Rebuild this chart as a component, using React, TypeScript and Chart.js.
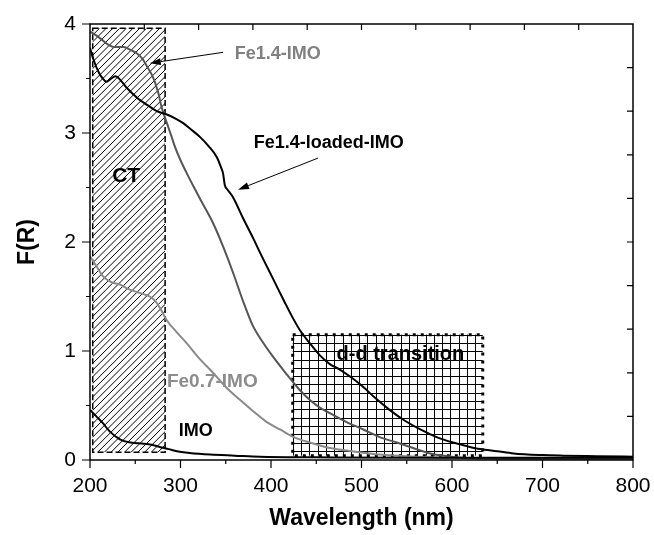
import { useEffect, useRef } from "react";
import { Chart, registerables } from "chart.js";
Chart.register(...registerables);

// ---- data (wavelength in nm, F(R)) ----
const loadedNm = [200, 204, 210, 214, 218, 222, 228, 232, 240, 246, 254, 261, 270, 277, 285, 295, 303, 312, 322, 331, 340, 345, 347, 349, 352, 358, 369, 380, 388, 397, 406, 415, 425, 432, 443, 454, 465, 476, 490, 502, 515, 531, 548, 565, 583, 601, 615, 631, 650, 668, 700, 723, 760, 800];
const loadedF = [3.78, 3.67, 3.55, 3.5, 3.47, 3.49, 3.52, 3.5, 3.42, 3.37, 3.31, 3.27, 3.22, 3.19, 3.17, 3.13, 3.09, 3.03, 2.96, 2.88, 2.78, 2.68, 2.63, 2.52, 2.48, 2.41, 2.22, 2.04, 1.9, 1.75, 1.6, 1.45, 1.29, 1.19, 1.07, 0.96, 0.88, 0.83, 0.75, 0.67, 0.57, 0.46, 0.36, 0.28, 0.21, 0.16, 0.13, 0.1, 0.08, 0.06, 0.045, 0.04, 0.035, 0.03];

const fe14Nm = [200, 206, 214, 220, 226, 232, 237, 245, 252, 258, 263, 268, 272, 276, 279, 285, 290, 294, 300, 307, 315, 322, 335, 347, 358, 369, 380, 391, 402, 416, 432, 443, 454, 465, 483, 502, 520, 539, 557, 576, 595, 612, 650, 700, 800];
const fe14F = [3.93, 3.9, 3.85, 3.81, 3.79, 3.79, 3.79, 3.76, 3.73, 3.68, 3.61, 3.54, 3.46, 3.35, 3.24, 3.09, 2.97, 2.87, 2.75, 2.63, 2.5, 2.39, 2.19, 1.96, 1.72, 1.46, 1.23, 1.08, 0.95, 0.8, 0.64, 0.55, 0.48, 0.43, 0.35, 0.28, 0.21, 0.16, 0.11, 0.06, 0.035, 0.02, 0.012, 0.01, 0.01];

const fe07Nm = [200, 207, 215, 224, 233, 242, 252, 260, 266, 272, 277, 281, 285, 295, 307, 320, 336, 350, 366, 380, 395, 410, 425, 443, 465, 490, 520, 560, 594, 650, 700, 800];
const fe07F = [1.87, 1.78, 1.68, 1.63, 1.61, 1.57, 1.54, 1.52, 1.5, 1.46, 1.4, 1.34, 1.28, 1.18, 1.07, 0.94, 0.8, 0.67, 0.55, 0.45, 0.35, 0.28, 0.21, 0.16, 0.11, 0.08, 0.05, 0.03, 0.02, 0.012, 0.01, 0.01];

const imoNm = [200, 207, 214, 222, 233, 245, 259, 268, 277, 287, 296, 310, 333, 360, 388, 450, 550, 650, 800];
const imoF = [0.46, 0.4, 0.34, 0.26, 0.19, 0.16, 0.15, 0.14, 0.12, 0.1, 0.08, 0.065, 0.05, 0.04, 0.03, 0.025, 0.02, 0.02, 0.02];

const xTicks = [200, 300, 400, 500, 600, 700, 800];
const yTicks = [0, 1, 2, 3, 4];

// annotation regions (data units)
const ctBox = { x0: 203, x1: 283, y0: 0.07, y1: 3.96 };
const ddBox = { x0: 424, x1: 634, y0: 0.04, y1: 1.15 };

const FONT = '"Liberation Sans", Arial, sans-serif';

function pts(xs: number[], ys: number[]) {
  return xs.map((x, i) => ({ x, y: ys[i] }));
}

function arrow(ctx: CanvasRenderingContext2D, x0: number, y0: number, x1: number, y1: number) {
  ctx.save();
  ctx.strokeStyle = "#000";
  ctx.fillStyle = "#000";
  ctx.lineWidth = 1;
  const a = Math.atan2(y1 - y0, x1 - x0);
  const L = 11, W = 3.5;
  const bx = x1 - L * Math.cos(a), by = y1 - L * Math.sin(a);
  ctx.beginPath();
  ctx.moveTo(x0, y0);
  ctx.lineTo(bx, by);
  ctx.stroke();
  ctx.beginPath();
  ctx.moveTo(x1, y1);
  ctx.lineTo(bx - W * Math.sin(a), by + W * Math.cos(a));
  ctx.lineTo(bx + W * Math.sin(a), by - W * Math.cos(a));
  ctx.closePath();
  ctx.fill();
  ctx.restore();
}

const boxesPlugin = {
  id: "boxes",
  beforeDatasetsDraw(chart: any) {
    const { ctx, scales } = chart;
    const xs = scales.x, ys = scales.y;
    // CT hatched box
    {
      const l = xs.getPixelForValue(ctBox.x0), r = xs.getPixelForValue(ctBox.x1);
      const t = ys.getPixelForValue(ctBox.y1), b = ys.getPixelForValue(ctBox.y0);
      ctx.save();
      ctx.beginPath();
      ctx.rect(l, t, r - l, b - t);
      ctx.clip();
      ctx.strokeStyle = "#000";
      ctx.lineWidth = 1;
      const step = 6.7;
      const h = b - t;
      ctx.beginPath();
      for (let k = l - h; k < r + step; k += step) {
        ctx.moveTo(k, b);
        ctx.lineTo(k + h, t);
      }
      ctx.stroke();
      ctx.restore();
      ctx.save();
      ctx.strokeStyle = "#000";
      ctx.lineWidth = 1.5;
      ctx.setLineDash([6, 3]);
      ctx.strokeRect(l, t, r - l, b - t);
      ctx.restore();
    }
    // d-d grid box
    {
      const l = xs.getPixelForValue(ddBox.x0), r = xs.getPixelForValue(ddBox.x1);
      const t = ys.getPixelForValue(ddBox.y1), b = ys.getPixelForValue(ddBox.y0);
      ctx.save();
      ctx.fillStyle = "#fff";
      ctx.fillRect(l, t, r - l, b - t);
      ctx.strokeStyle = "#000";
      ctx.lineWidth = 1;
      const step = 8.3;
      ctx.beginPath();
      for (let x = l; x <= r + 0.5; x += step) {
        ctx.moveTo(Math.round(x) + 0.5, t);
        ctx.lineTo(Math.round(x) + 0.5, b);
      }
      for (let y = t; y <= b + 0.5; y += step) {
        ctx.moveTo(l, Math.round(y) + 0.5);
        ctx.lineTo(r, Math.round(y) + 0.5);
      }
      ctx.stroke();
      ctx.lineWidth = 3;
      ctx.setLineDash([3, 5]);
      ctx.strokeRect(l, t, r - l, b - t);
      ctx.restore();
    }
  },
  afterDatasetsDraw(chart: any) {
    const { ctx, scales, chartArea } = chart;
    const xs = scales.x, ys = scales.y;
    const px = (v: number) => xs.getPixelForValue(v);
    const py = (v: number) => ys.getPixelForValue(v);

    // labels
    ctx.save();
    ctx.textBaseline = "middle";
    ctx.font = `bold 18px ${FONT}`;
    ctx.textAlign = "left";
    ctx.fillStyle = "#808080";
    ctx.fillText("Fe1.4-IMO", px(360), py(3.72));
    ctx.fillStyle = "#000";
    ctx.fillText("Fe1.4-loaded-IMO", px(381), py(2.91));
    ctx.font = `bold 19px ${FONT}`;
    ctx.fillStyle = "#8c8c8c";
    ctx.fillText("Fe0.7-IMO", px(285), py(0.72));
    ctx.font = `bold 18px ${FONT}`;
    ctx.fillStyle = "#000";
    ctx.fillText("IMO", px(298), py(0.27));
    ctx.textAlign = "center";
    ctx.font = `bold 21px ${FONT}`;
    ctx.fillText("CT", px(240), py(2.6));
    ctx.font = `bold 20px ${FONT}`;
    ctx.fillText("d-d transition", px(543), py(0.97));
    ctx.restore();

    arrow(ctx, px(347), py(3.74), px(266), py(3.64));
    arrow(ctx, px(452), py(2.77), px(363.5), py(2.48));

    // frame and ticks
    const { left, right, top, bottom } = chartArea;
    ctx.save();
    ctx.strokeStyle = "#000";
    ctx.lineWidth = 1.5;
    ctx.strokeRect(left, top, right - left, bottom - top);
    ctx.lineWidth = 1.2;
    ctx.beginPath();
    for (let v = 200; v <= 800; v += 50) {
      const x = px(v);
      const len = v % 100 === 0 ? 8 : 4;
      ctx.moveTo(x, bottom);
      ctx.lineTo(x, bottom + len);
    }
    for (let v = 0; v <= 4.001; v += 0.5) {
      const y = py(v);
      const len = Math.abs(v - Math.round(v)) < 1e-6 ? 8 : 4;
      ctx.moveTo(left, y);
      ctx.lineTo(left - len, y);
    }
    for (let i = 1; i < 10; i++) {
      const x = left + ((right - left) * i) / 10;
      ctx.moveTo(x, top);
      ctx.lineTo(x, top + 6);
      const y = top + ((bottom - top) * i) / 10;
      ctx.moveTo(right, y);
      ctx.lineTo(right - 6, y);
    }
    ctx.stroke();
    ctx.restore();
  },
};

export default function App() {
  const ref = useRef<HTMLCanvasElement | null>(null);
  useEffect(() => {
    if (!ref.current) return;
    const chart = new Chart(ref.current, {
      type: "line",
      data: {
        datasets: [
          { label: "Fe1.4-loaded-IMO", data: pts(loadedNm, loadedF), borderColor: "#000", borderWidth: 2 },
          { label: "IMO", data: pts(imoNm, imoF), borderColor: "#000", borderWidth: 2 },
          { label: "Fe1.4-IMO", data: pts(fe14Nm, fe14F), borderColor: "#555", borderWidth: 2 },
          { label: "Fe0.7-IMO", data: pts(fe07Nm, fe07F), borderColor: "#8a8a8a", borderWidth: 2 },
        ].map((d) => ({ ...d, pointRadius: 0, fill: false, cubicInterpolationMode: "monotone" as const })),
      },
      options: {
        animation: false,
        responsive: false,
        maintainAspectRatio: false,
        layout: { padding: { top: 24, right: 21, left: 0, bottom: 0 } },
        plugins: { legend: { display: false }, tooltip: { enabled: false } },
        scales: {
          x: {
            type: "linear",
            min: 200,
            max: 800,
            afterFit: (s: any) => { s.height = 75; s.paddingLeft = 0; s.paddingRight = 0; },
            afterBuildTicks: (s: any) => { s.ticks = xTicks.map((v) => ({ value: v })); },
            grid: { display: false, drawTicks: false },
            border: { display: false },
            ticks: { color: "#000", font: { family: FONT, size: 21 }, padding: 14, maxRotation: 0 },
            title: { display: true, text: "Wavelength (nm)", color: "#000", font: { family: FONT, size: 23, weight: "bold" }, padding: { top: 2, bottom: 3 } },
          },
          y: {
            type: "linear",
            min: 0,
            max: 4,
            afterFit: (s: any) => { s.width = 90; s.paddingTop = 0; s.paddingBottom = 0; },
            afterBuildTicks: (s: any) => { s.ticks = yTicks.map((v) => ({ value: v })); },
            grid: { display: false, drawTicks: false },
            border: { display: false },
            ticks: { color: "#000", font: { family: FONT, size: 21 }, padding: 14 },
            title: { display: true, text: "F(R)", color: "#000", font: { family: FONT, size: 23, weight: "bold" }, padding: { top: 14, bottom: 0 } },
          },
        },
      },
      plugins: [boxesPlugin],
    });
    return () => chart.destroy();
  }, []);
  return (
    <div style={{ position: "fixed", left: 0, top: 0, width: 654, height: 535, background: "#fff" }}>
      <canvas ref={ref} width={654} height={535} style={{ width: 654, height: 535 }} />
    </div>
  );
}
